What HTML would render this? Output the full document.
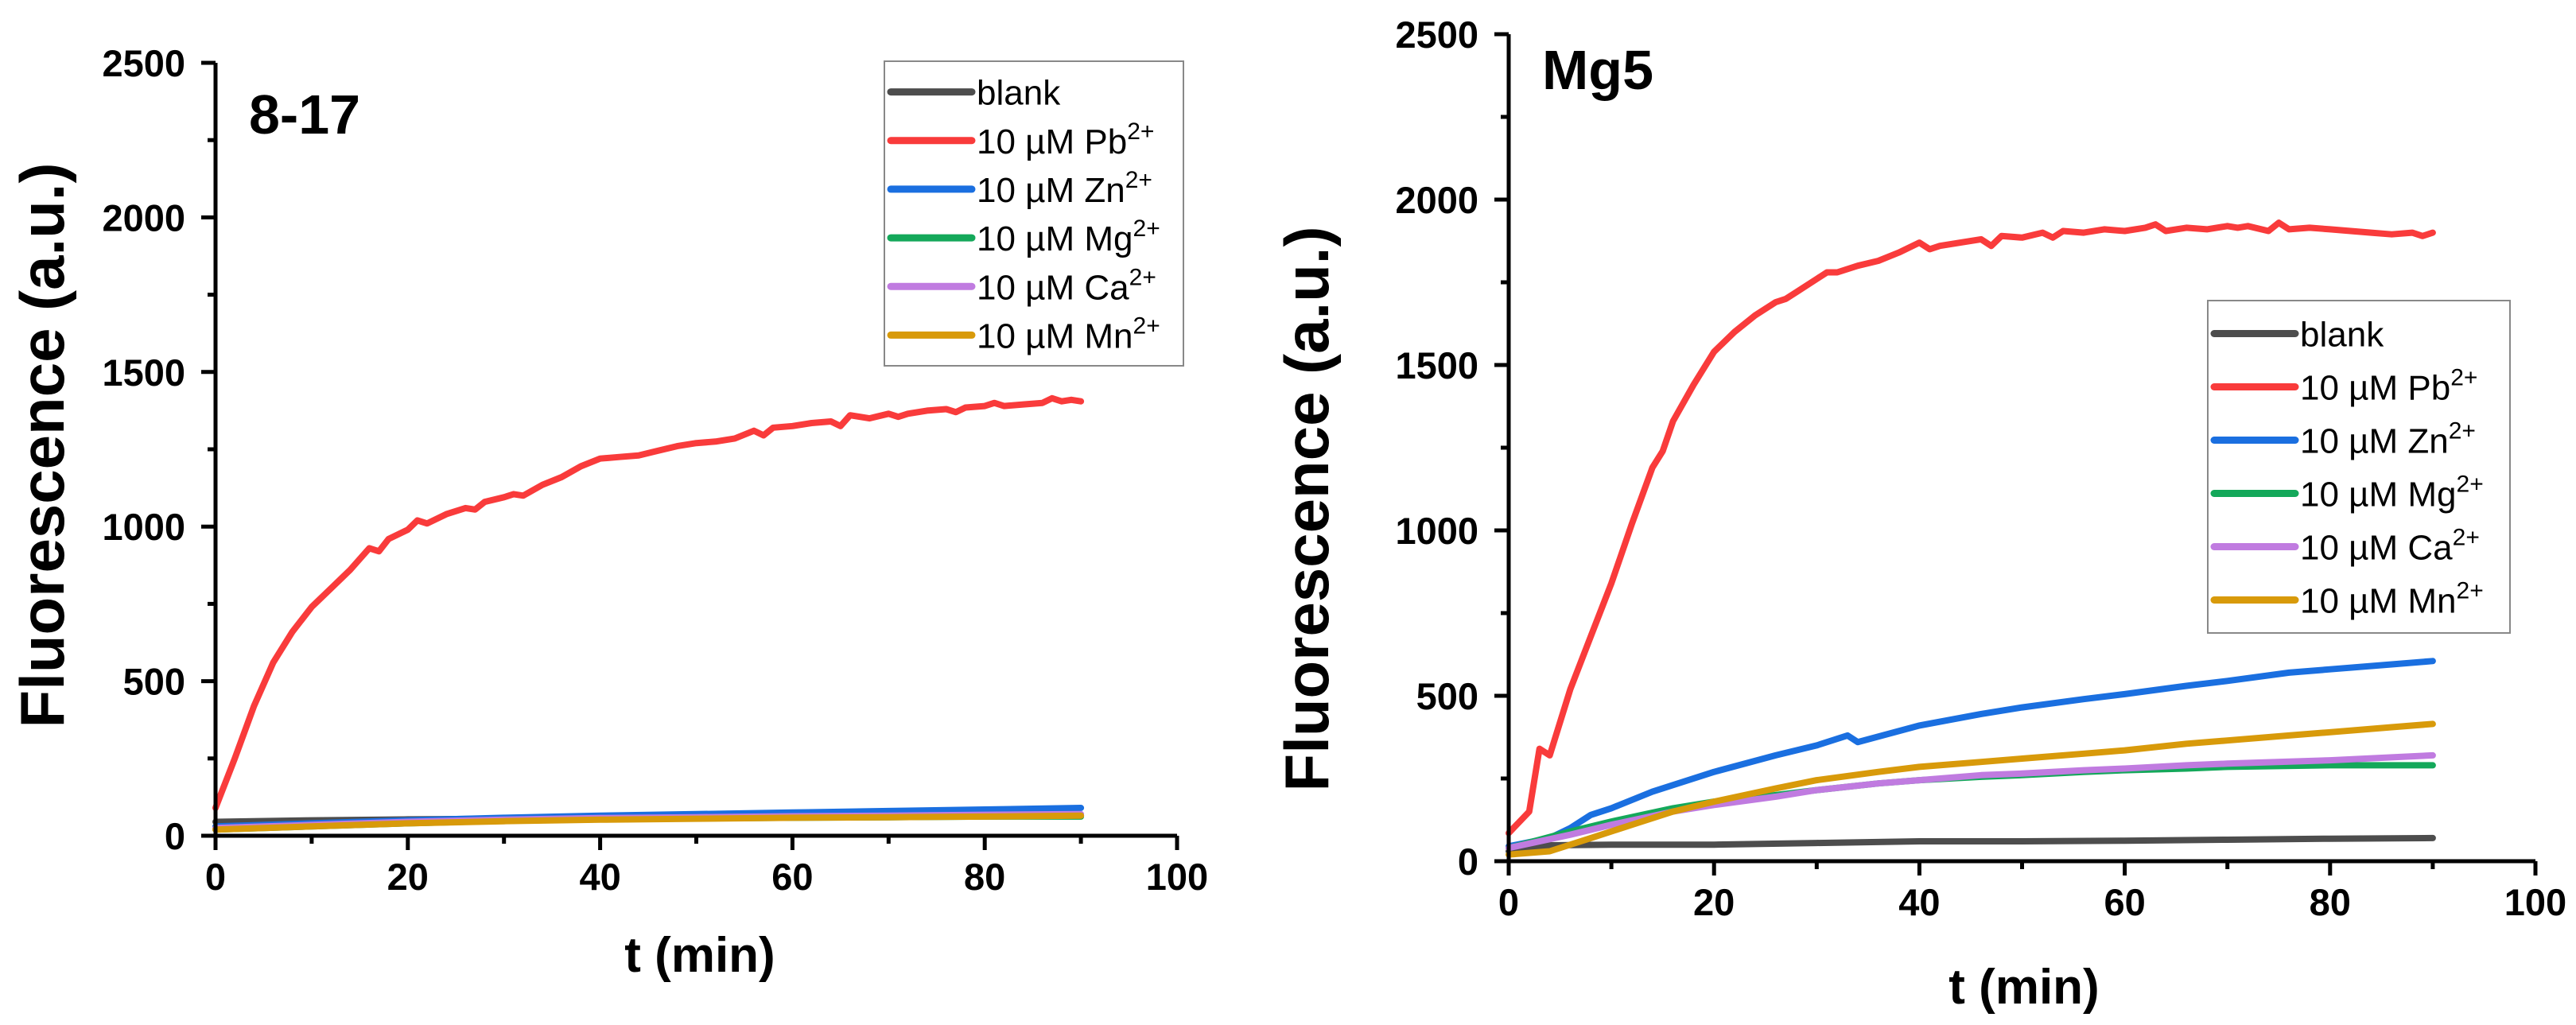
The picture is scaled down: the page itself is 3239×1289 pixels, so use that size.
<!DOCTYPE html>
<html><head><meta charset="utf-8"><style>
html,body{margin:0;padding:0;background:#fff}
svg{display:block}
text{font-family:"Liberation Sans",Arial,sans-serif}
</style></head><body>
<svg id="fig" width="3239" height="1289" viewBox="0 0 3239 1289" xmlns="http://www.w3.org/2000/svg"></svg>
<script>
// ---- data: left panel (8-17) ----
const L_blank_t=[0,10,20,30,40,50,60,70,80,90];
const L_blank_y=[45,50,53,55,58,60,62,63,64,65];
const L_pb_t=[0,2,4,6,8,10,12,14,16,17,18,20,21,22,24,26,27,28,30,31,32,34,36,38,40,42,44,46,48,50,52,54,56,57,58,60,62,64,65,66,68,70,71,72,74,76,77,78,80,81,82,84,86,87,88,89,90];
const L_pb_y=[90,250,420,560,660,740,800,860,930,920,960,990,1020,1010,1040,1060,1055,1080,1095,1105,1100,1135,1160,1195,1220,1225,1230,1245,1260,1270,1275,1285,1310,1295,1320,1325,1335,1340,1325,1360,1350,1365,1355,1365,1375,1380,1370,1385,1390,1400,1390,1395,1400,1415,1405,1410,1405];
const L_zn_t=[0,10,20,30,40,50,60,70,80,90];
const L_zn_y=[30,40,50,58,65,70,75,80,85,90];
const L_mg_t=[0,10,20,30,40,50,60,70,80,90];
const L_mg_y=[20,30,40,48,53,56,58,60,62,62];
const L_ca_t=[0,10,20,30,40,50,60,70,80,90];
const L_ca_y=[25,35,45,52,57,60,63,65,68,70];
const L_mn_t=[0,10,20,30,40,50,60,70,80,90];
const L_mn_y=[20,30,40,47,52,55,58,60,62,65];
// ---- data: right panel (Mg5) ----
const R_blank_t=[0,2,4,10,20,30,40,50,60,70,80,90];
const R_blank_y=[30,40,48,50,50,55,60,60,62,65,68,70];
const R_pb_t=[0,2,3,4,6,8,10,12,14,15,16,18,20,22,24,26,27,28,30,31,32,34,36,38,40,41,42,44,46,47,48,50,52,53,54,56,58,60,62,63,64,66,68,70,71,72,74,75,76,78,80,82,84,86,88,89,90];
const R_pb_y=[85,150,340,320,520,680,840,1020,1190,1240,1330,1440,1540,1600,1650,1690,1700,1720,1760,1780,1780,1800,1815,1840,1870,1850,1860,1870,1880,1860,1890,1885,1900,1885,1905,1900,1910,1905,1915,1925,1905,1915,1910,1920,1915,1920,1905,1930,1910,1915,1910,1905,1900,1895,1900,1890,1900];
const R_zn_t=[0,4,6,8,10,14,20,26,30,33,34,40,46,50,56,60,66,70,76,80,86,90];
const R_zn_y=[45,70,100,140,160,210,270,320,350,380,360,410,445,465,490,505,530,545,570,580,595,605];
const R_mg_t=[0,6,10,16,20,26,30,36,40,46,50,56,60,66,70,80,90];
const R_mg_y=[40,90,120,160,180,200,215,235,245,255,260,270,275,280,285,290,290];
const R_ca_t=[0,6,10,16,20,26,30,36,40,46,50,56,60,66,70,80,90];
const R_ca_y=[40,80,110,150,170,195,215,235,245,260,265,275,280,290,295,305,320];
const R_mn_t=[0,4,8,12,16,20,26,30,36,40,46,50,56,60,66,70,76,80,86,90];
const R_mn_y=[20,30,70,110,150,180,220,245,270,285,300,310,325,335,355,365,380,390,405,415];
const xTicks=[0,20,40,60,80,100];
const yTicks=[0,500,1000,1500,2000,2500];
const legendKeys=["blank","pb","zn","mg","ca","mn"];
const legendLabels=["blank","10 µM Pb","10 µM Zn","10 µM Mg","10 µM Ca","10 µM Mn"];
const legendSup=["","2+","2+","2+","2+","2+"];
const colorOf={blank:"#4d4d4d",pb:"#f93b3b",zn:"#1a6fe0",mg:"#14a85a",ca:"#c07be0",mn:"#d89a0a"};

const NS="http://www.w3.org/2000/svg";
const svg=document.getElementById('fig');
function mk(tag,attrs,parent){const e=document.createElementNS(NS,tag);for(const k in attrs)e.setAttribute(k,attrs[k]);(parent||svg).appendChild(e);return e;}

function panel(cfg){
  const g=mk('g',{});
  
  
  const X=v=>cfg.x0+(v/100)*(cfg.x1-cfg.x0);
  const Y=v=>cfg.y0-(v/2500)*(cfg.y0-cfg.y1);
  cfg.series.forEach(s=>{
    const d=s.t.map((t,j)=>(j?'L':'M')+X(t).toFixed(1)+','+Y(s.y[j]).toFixed(1)).join(' ');
    const p=mk('path',{d:d,fill:'none',stroke:colorOf[s.key],'stroke-width':8,'stroke-linejoin':'round','stroke-linecap':'round'},g);
    
    
  });
  const ax=mk('path',{d:`M${cfg.x0},${cfg.y1} V${cfg.y0} H${cfg.x1}`,fill:'none',stroke:'#000','stroke-width':5},g);
  
  
  for(let v=0;v<=2500;v+=250){
    const maj=v%500===0;
    mk('line',{x1:cfg.x0-(maj?18:10),x2:cfg.x0,y1:Y(v),y2:Y(v),stroke:'#000','stroke-width':5},g);
  }
  for(let v=0;v<=100;v+=10){
    const maj=v%20===0;
    mk('line',{x1:X(v),x2:X(v),y1:cfg.y0,y2:cfg.y0+(maj?18:10),stroke:'#000','stroke-width':5},g);
  }
  yTicks.forEach(v=>{
    const t=mk('text',{x:cfg.x0-38,y:Y(v)+17,'text-anchor':'end','font-size':47,'font-weight':'bold'},g);
    t.textContent=v;
    
    
  });
  xTicks.forEach(v=>{
    const t=mk('text',{x:X(v),y:cfg.y0+68,'text-anchor':'middle','font-size':47,'font-weight':'bold'},g);
    t.textContent=v;
    
    
  });
  const yt=mk('text',{x:0,y:0,'text-anchor':'middle','font-size':78,'font-weight':'bold',transform:`translate(${cfg.ytx},${cfg.yty}) rotate(-90)`},g);
  yt.textContent='Fluorescence (a.u.)';
  
  
  const xt=mk('text',{x:cfg.xtx,y:cfg.xty,'text-anchor':'middle','font-size':62,'font-weight':'bold'},g);
  xt.textContent='t (min)';
  
  
  const tt=mk('text',{x:cfg.x0+42,y:cfg.ttY,'font-size':70,'font-weight':'bold'},g);
  tt.textContent=cfg.title;
  
  
  const lg=mk('g',{},g);
  
  
  mk('rect',{x:cfg.lx,y:cfg.ly,width:cfg.lw,height:cfg.lh,fill:'#fff',stroke:'#888','stroke-width':2},lg);
  const step=(cfg.lh-16)/6;
  legendLabels.forEach((lab,i)=>{
    const cy=cfg.ly+8+step*(i+0.5);
    const e=mk('g',{},lg);
    
    
    mk('line',{x1:cfg.lx+8,x2:cfg.lx+110,y1:cy,y2:cy,stroke:colorOf[legendKeys[i]],'stroke-width':9,'stroke-linecap':'round'},e);
    const t=mk('text',{x:cfg.lx+116,y:cy+16,'font-size':44},e);
    t.textContent=lab;
    if(legendSup[i]){const s=mk('tspan',{dy:-18,'font-size':30},t);s.textContent=legendSup[i];}
  });
}
panel({name:'panel-8-17',title:'8-17',x0:271,x1:1480,y0:1051,y1:79,ttY:168,
  ytx:80,yty:560,xtx:880,xty:1222,lx:1112,ly:77,lw:376,lh:383,
  series:[{key:'blank',t:L_blank_t,y:L_blank_y},{key:'zn',t:L_zn_t,y:L_zn_y},{key:'mg',t:L_mg_t,y:L_mg_y},{key:'ca',t:L_ca_t,y:L_ca_y},{key:'mn',t:L_mn_t,y:L_mn_y},{key:'pb',t:L_pb_t,y:L_pb_y}]});
panel({name:'panel-mg5',title:'Mg5',x0:1897,x1:3188,y0:1083,y1:43,ttY:112,
  ytx:1670,yty:640,xtx:2545,xty:1262,lx:2776,ly:378,lw:380,lh:418,
  series:[{key:'blank',t:R_blank_t,y:R_blank_y},{key:'zn',t:R_zn_t,y:R_zn_y},{key:'mg',t:R_mg_t,y:R_mg_y},{key:'ca',t:R_ca_t,y:R_ca_y},{key:'mn',t:R_mn_t,y:R_mn_y},{key:'pb',t:R_pb_t,y:R_pb_y}]});
</script>
</body></html>
